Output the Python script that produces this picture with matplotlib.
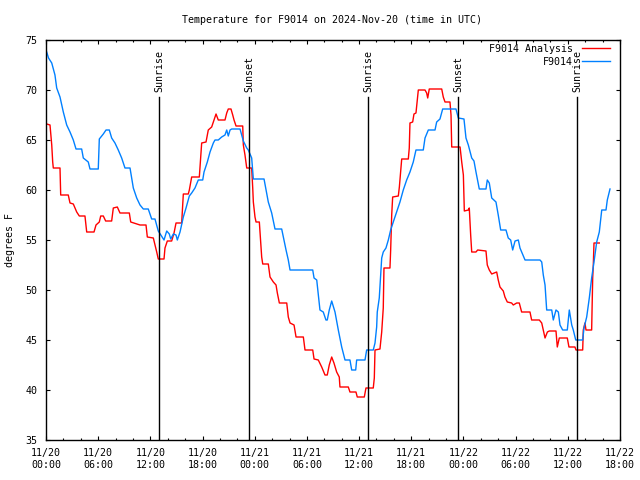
import matplotlib
matplotlib.use("Agg")
import matplotlib.pyplot as plt
from matplotlib.ticker import MultipleLocator, FixedLocator
import numpy as np

# Hours since 2024-11-20 00:00 UTC
obs_hours = [0.08, 0.29, 0.66, 1.03, 1.23, 1.61, 1.99, 2.38, 2.76, 3.14, 3.45, 4.10, 4.29, 4.86, 5.06,
             6.01, 6.13, 6.59, 6.90, 7.28, 7.55, 7.93, 8.31, 8.70, 9.08, 9.66, 10.04, 10.43, 10.81, 11.19,
             11.76, 12.15, 12.53, 12.91, 13.57, 13.88, 14.18, 14.34, 14.64, 14.95, 15.10, 15.41, 15.79,
             16.10, 16.48, 16.75, 17.13, 17.51, 18.02, 18.17, 18.55, 18.86, 19.24, 19.43, 19.81, 20.20,
             20.58, 20.78, 20.96, 21.16, 21.35, 22.31, 22.50, 22.69, 23.08, 23.26, 23.65, 23.84, 25.07,
             25.30, 25.56, 25.95, 26.33, 27.10, 27.29, 27.60, 27.86, 28.06, 30.67, 30.82, 31.13, 31.31,
             31.50, 31.88, 32.19, 32.34, 32.57, 32.85, 33.23, 33.61, 34.00, 34.38, 34.95, 35.15, 35.61,
             35.72, 36.68, 36.87, 37.63, 37.83, 38.02, 38.09, 38.32, 38.48, 38.60, 38.78, 39.09, 39.36,
             39.63, 39.93, 40.32, 40.70, 41.08, 41.47, 41.85, 42.23, 42.54, 43.38, 43.58, 43.96, 44.73,
             44.92, 45.30, 45.61, 47.14, 47.41, 48.06, 48.29, 48.56, 48.95, 49.21, 49.44, 49.82, 50.59,
             50.74, 50.97, 51.25, 51.74, 52.00, 52.28, 52.89, 53.15, 53.43, 53.66, 53.93, 54.31, 54.50,
             55.08, 56.80, 57.00, 57.18, 57.38, 57.57, 58.15, 58.33, 58.64, 58.91, 59.10, 59.41, 59.94,
             60.17, 60.45, 60.63, 60.91, 61.71, 61.86, 62.17, 62.47, 62.74, 63.01, 63.32, 63.62, 63.90,
             64.39, 64.54, 64.85]
obs_temp = [73.8, 73.2, 72.7, 71.5, 70.2, 69.3, 67.8, 66.5, 65.8, 65.0, 64.1, 64.1, 63.2, 62.8, 62.1,
            62.1, 65.1, 65.6, 66.0, 66.0, 65.2, 64.7, 64.0, 63.2, 62.2, 62.2, 60.2, 59.2, 58.5, 58.1,
            58.1, 57.1, 57.1, 55.9, 55.0, 55.9, 55.6, 55.1, 55.6, 55.5, 55.0, 55.8, 57.3,
            58.2, 59.4, 59.7, 60.2, 61.0, 61.0, 61.8, 62.8, 63.8, 64.7, 65.0, 65.0, 65.3,
            65.5, 66.0, 65.4, 66.0, 66.1, 66.1, 65.5, 64.9, 64.2, 64.0, 63.2, 61.1, 61.1,
            60.0, 58.8, 57.7, 56.1, 56.1, 55.3, 54.0, 53.0, 52.0, 52.0, 51.2, 51.0, 49.5,
            48.0, 47.8, 47.0, 47.0, 48.0, 48.9, 47.8, 46.0, 44.3, 43.0, 43.0, 42.0, 42.0,
            43.0, 43.0, 44.0, 44.0, 44.7, 46.3, 47.8, 49.2, 51.5, 53.2, 53.8, 54.2, 55.0,
            56.0, 56.8, 57.8, 58.8, 60.0, 61.0, 61.8, 62.8, 64.0, 64.0, 65.2, 66.0, 66.0,
            66.8, 67.1, 68.1, 68.1, 67.2, 67.1, 65.2, 64.5, 63.2, 62.9, 61.8, 60.1, 60.1,
            61.0, 60.7, 59.2, 58.8, 57.5, 56.0, 56.0, 55.2, 55.0, 54.0, 54.9, 55.0, 54.2,
            53.0, 53.0, 52.8, 51.5, 50.5, 48.0, 48.0, 47.0, 48.0, 47.8, 46.5, 46.0, 46.0,
            48.0, 46.5, 46.0, 45.0, 45.0, 46.2, 47.3, 49.2, 51.2, 52.8, 54.8, 55.8, 58.0,
            58.0, 59.0, 60.1]

ana_hours = [0.08, 0.46, 0.66, 0.77, 0.84, 1.61, 1.69, 2.56, 2.76, 3.14, 3.33, 3.53, 3.83, 4.48, 4.68,
             5.52, 5.75, 6.13, 6.29, 6.59, 6.86, 7.55, 7.74, 8.20, 8.51, 9.58, 9.74, 10.81, 11.50, 11.65,
             12.34, 12.73, 12.91, 13.57, 13.68, 13.95, 14.45, 14.72, 14.95, 15.60, 15.79, 16.36, 16.48,
             16.75, 17.63, 17.90, 18.40, 18.66, 19.05, 19.32, 19.55, 19.81, 20.58, 20.78, 20.96, 21.27,
             21.47, 21.62, 21.85, 22.62, 22.69, 22.88, 23.08, 23.65, 23.77, 23.84, 24.03, 24.15, 24.53,
             24.69, 24.80, 24.92, 25.56, 25.76, 26.14, 26.45, 26.60, 26.83, 27.68, 27.86, 28.06, 28.52,
             28.75, 29.59, 29.78, 30.67, 30.82, 31.31, 31.70, 32.08, 32.34, 32.57, 32.85, 33.11, 33.42,
             33.72, 33.80, 34.76, 34.95, 35.64, 35.79, 36.60, 36.79, 37.63, 37.75, 37.83, 38.40, 38.60,
             38.78, 38.86, 39.55, 39.63, 39.75, 39.86, 40.51, 40.63, 40.82, 40.90, 41.66, 41.77, 41.85,
             42.16, 42.31, 42.54, 42.81, 43.58, 43.77, 43.89, 44.07, 45.50, 45.68, 45.88, 46.45, 46.57,
             46.65, 47.61, 47.80, 47.99, 48.10, 48.56, 48.67, 48.83, 48.95, 49.44, 49.63, 50.59, 50.74,
             50.97, 51.25, 51.82, 52.00, 52.20, 52.58, 52.77, 53.04, 53.54, 53.73, 54.12, 54.42, 54.69,
             55.65, 55.84, 56.72, 57.00, 57.18, 57.38, 57.65, 57.87, 58.64, 58.79, 59.02, 59.29, 59.94,
             60.13, 60.82, 60.94, 61.71, 61.78, 61.97, 62.09, 62.74, 62.86, 62.93, 63.01, 63.62]
ana_temp = [66.6, 66.5, 64.5, 62.8, 62.2, 62.2, 59.5, 59.5, 58.7, 58.6, 58.2, 57.8, 57.4, 57.4, 55.8,
            55.8, 56.5, 56.8, 57.4, 57.4, 56.9, 56.9, 58.2, 58.3, 57.7, 57.7, 56.8, 56.5, 56.5, 55.3,
            55.2, 53.8, 53.1, 53.1, 54.2, 54.9, 54.9, 55.7, 56.7, 56.7, 59.6, 59.6, 60.0,
            61.3, 61.3, 64.7, 64.8, 66.0, 66.3, 67.0, 67.6, 67.0, 67.0, 67.7, 68.1, 68.1,
            67.5, 67.0, 66.4, 66.4, 64.5, 63.5, 62.2, 62.2, 60.2, 58.8, 57.3, 56.8, 56.8,
            54.7, 53.3, 52.6, 52.6, 51.3, 50.8, 50.5, 49.7, 48.7, 48.7, 47.3, 46.7, 46.5,
            45.3, 45.3, 44.0, 44.0, 43.1, 43.0, 42.3, 41.5, 41.5, 42.5, 43.3, 42.7, 41.8,
            41.3, 40.3, 40.3, 39.8, 39.8, 39.3, 39.3, 40.2, 40.2, 41.2, 44.0, 44.1, 45.8,
            48.2, 52.2, 52.2, 54.0, 57.5, 59.3, 59.4, 60.3, 62.2, 63.1, 63.1, 64.2, 66.7,
            66.8, 67.6, 67.7, 70.0, 70.0, 69.7, 69.2, 70.1, 70.1, 69.3, 68.8, 68.8, 67.5,
            64.3, 64.3, 62.8, 61.5, 57.9, 58.0, 58.2, 55.5, 53.8, 53.8, 54.0, 53.9, 52.5,
            52.0, 51.6, 51.8, 51.0, 50.3, 49.9, 49.3, 48.8, 48.7, 48.5, 48.7, 48.7, 47.8,
            47.8, 47.0, 47.0, 46.7, 46.0, 45.2, 45.8, 45.9, 45.9, 44.3, 45.2, 45.2, 45.2,
            44.3, 44.3, 44.0, 44.0, 46.0, 46.7, 46.0, 46.0, 51.2, 52.5, 54.7, 54.7]

event_hours = [12.99, 23.34, 37.02, 47.37, 61.06]
event_labels = ["Sunrise", "Sunset", "Sunrise", "Sunset", "Sunrise"]

tick_hours = [0, 6, 12, 18, 24, 30, 36, 42, 48, 54, 60, 66]
tick_labels = ["11/20\n00:00", "11/20\n06:00", "11/20\n12:00", "11/20\n18:00",
               "11/21\n00:00", "11/21\n06:00", "11/21\n12:00", "11/21\n18:00",
               "11/22\n00:00", "11/22\n06:00", "11/22\n12:00", "11/22\n18:00"]

FONT = "DejaVu Sans Mono"
FS = 7.2
plt.rcParams['font.family'] = [FONT]
plt.rcParams['font.size'] = FS

fig = plt.figure(figsize=(6.4, 4.8), dpi=100)
ax = fig.add_axes([46/640, 1 - 440/480, 574/640, 400/480])

ax.plot(ana_hours, ana_temp, color="#ff0000", lw=1.0, label="F9014 Analysis")
ax.plot(obs_hours, obs_temp, color="#0080ff", lw=1.0, label="F9014")

for h, lab in zip(event_hours, event_labels):
    ax.plot([h, h], [35, 69.3], color="black", lw=1.0)
    ax.text(h, 69.8, lab, rotation=90, ha="center", va="bottom", fontsize=FS)

ax.set_xlim(0, 66)
ax.set_ylim(35, 75)
ax.xaxis.set_major_locator(FixedLocator(tick_hours))
ax.set_xticklabels(tick_labels)
ax.xaxis.set_minor_locator(MultipleLocator(2))
ax.yaxis.set_major_locator(MultipleLocator(5))
ax.tick_params(which="major", direction="in", length=3.2, width=0.8,
               top=True, right=True, labelsize=FS, pad=6)
ax.tick_params(which="minor", direction="in", length=1.6, width=0.8, top=True, right=False)
ax.tick_params(axis="y", which="minor", left=False, right=False)
for s in ax.spines.values():
    s.set_linewidth(1.0)

ax.set_ylabel("degrees F", fontsize=FS, labelpad=10)
ax.yaxis.set_label_coords(-0.054, 0.5)
fig.text(332.5/640, 1 - 20/480, "Temperature for F9014 on 2024-Nov-20 (time in UTC)",
         ha="center", va="center", fontsize=FS)

ax.legend(loc="upper right", bbox_to_anchor=((610-46)/574, (440-44)/400), frameon=False,
          markerfirst=False, handlelength=2.8, handletextpad=0.9, labelspacing=0.3,
          borderpad=0, borderaxespad=0, fontsize=FS)

fig.savefig("out.png", dpi=100)
